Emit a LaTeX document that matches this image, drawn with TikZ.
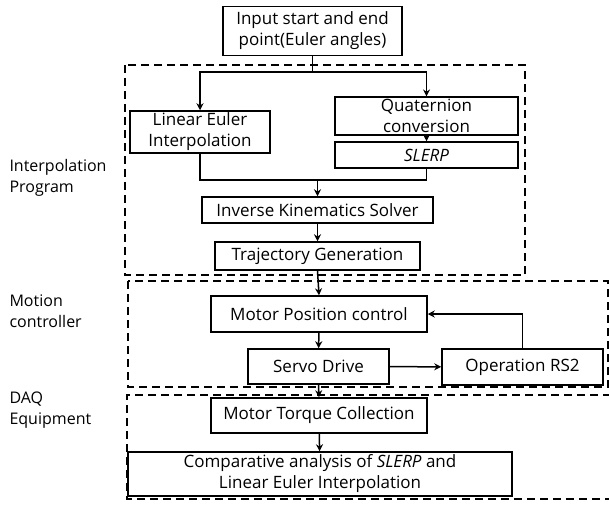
\documentclass[tikz,border=0pt]{standalone}
\usepackage{fontspec}
\setmainfont{Open Sans}
\usepackage{tikz}
\usetikzlibrary{arrows.meta, positioning, calc}
\tikzset{
  flowbox/.style={rectangle, draw=black, line width=1.5pt, inner sep=2pt, align=center, font=\fontsize{17}{21}\selectfont},
  grouplabel/.style={anchor=west, align=left, font=\fontsize{16}{21}\selectfont},
  groupframe/.style={draw=black, line width=1.2pt, dash pattern=on 8pt off 5pt},
  arrow/.style={-{Stealth[length=7pt,width=7pt]}, line width=1.5pt},
  joinline/.style={line width=1.5pt}
}

\begin{document}
\begin{tikzpicture}[x=1pt, y=-1pt]
  \useasboundingbox (0,0) rectangle (609,506);

  \draw[groupframe] (125,65) rectangle (525,275);
  \draw[groupframe] (128,281) rectangle (608,387);
  \draw[groupframe, line width=1.5pt] (611,395) -- (127,395) -- (127,499) -- (611,499);

  \node[grouplabel] (lbinterp) at (6,178) {Interpolation\\Program};
  \node[grouplabel] (lbmotion) at (6,311) {Motion\\controller};
  \node[grouplabel] (lbdaq) at (6,410) {DAQ\\Equipment};

  \node[flowbox, minimum width=179pt, minimum height=49pt] (inp) at (312.5,31) {Input start and end\\point(Euler angles)};
  \node[flowbox, minimum width=140pt, minimum height=40pt] (lin) at (200,132) {Linear Euler\\Interpolation};
  \node[flowbox, minimum width=183pt, minimum height=29pt] (quat) at (426.5,116) {Quaternion\\conversion};
  \node[flowbox, minimum width=183pt, minimum height=26pt] (slerp) at (426.5,155) {\textit{SLERP}};
  \node[flowbox, minimum width=231pt, minimum height=26pt] (iks) at (317.5,210) {Inverse Kinematics Solver};
  \node[flowbox, minimum width=205pt, minimum height=28pt] (traj) at (317.5,256) {Trajectory Generation};
  \node[flowbox, minimum width=216pt, minimum height=36pt] (mpc) at (319,314) {Motor Position control};
  \node[flowbox, minimum width=141pt, minimum height=35pt] (servo) at (318.5,366.5) {Servo Drive};
  \node[flowbox, minimum width=161pt, minimum height=36pt] (rs2) at (522.5,367) {Operation RS2};
  \node[flowbox, minimum width=216pt, minimum height=35pt] (torque) at (319,415.5) {Motor Torque Collection};
  \node[flowbox, minimum width=384pt, minimum height=44pt] (comp) at (320,474) {Comparative analysis of \textit{SLERP} and\\Linear Euler Interpolation};

  \coordinate (fork) at (312.5,72);
  \coordinate (merge) at (317.5,180);
  \draw[joinline] (inp.south) -- (fork);
  \draw[arrow] (fork) -| (lin.north);
  \draw[arrow] (fork) -| (quat.north);
  \draw[arrow] (quat) -- (slerp);
  \draw[joinline] (lin.south) |- (merge) -| (slerp.south);
  \draw[arrow] (merge) -- (iks.north);
  \draw[arrow] (iks) -- (traj);
  \draw[arrow] (traj.south) -- (mpc.north);
  \draw[arrow] (mpc) -- (servo);
  \draw[arrow] (servo) -- (rs2);
  \draw[arrow] (rs2.north) |- (mpc.east);
  \draw[arrow] (servo.south) -- (torque.north);
  \draw[arrow] (torque) -- (comp);
\end{tikzpicture}
\end{document}
